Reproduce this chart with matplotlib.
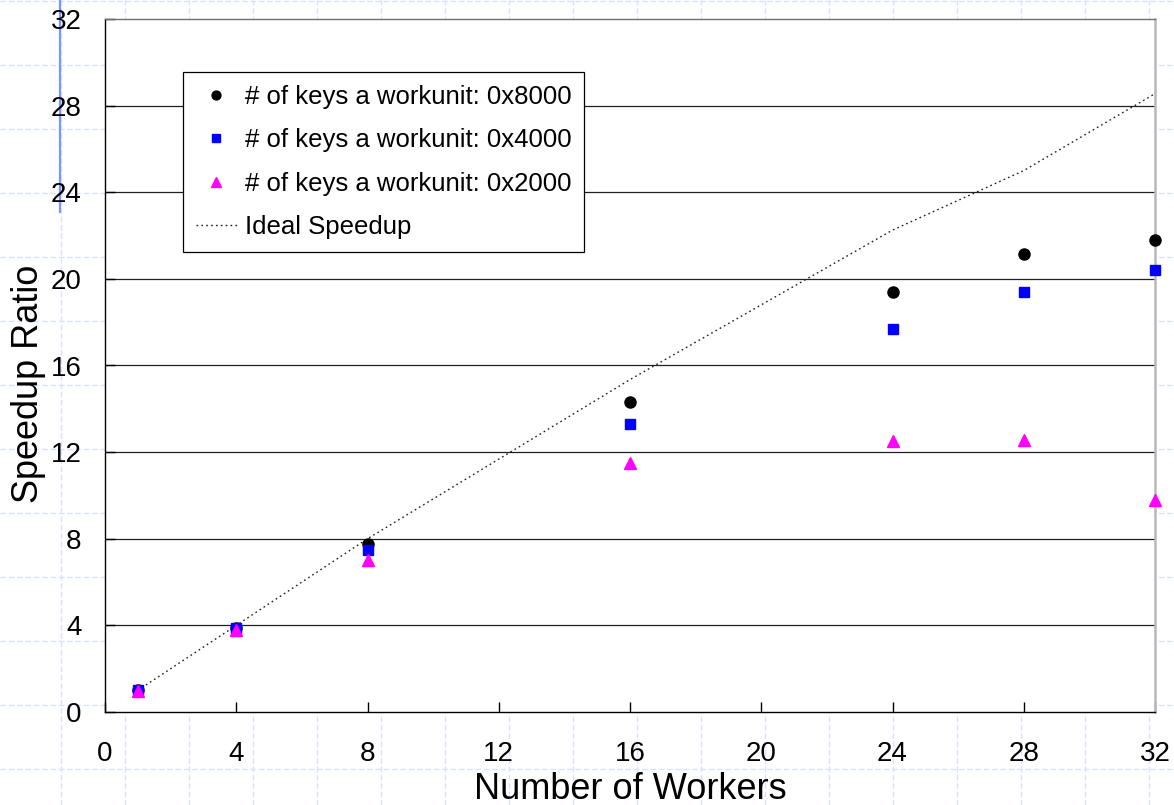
import numpy as np
import matplotlib
matplotlib.use("Agg")
import matplotlib.pyplot as plt

plt.rcParams['font.family'] = ['Liberation Sans', 'DejaVu Sans']

# data
workers = [1, 4, 8, 16, 24, 28, 32]
keys_8000 = [1.0, 3.9, 7.75, 14.3, 19.4, 21.15, 21.8]
keys_4000 = [1.0, 3.9, 7.5, 13.3, 17.7, 19.4, 20.4]
keys_2000 = [0.95, 3.8, 7.0, 11.5, 12.5, 12.55, 9.8]
ideal = [1.0, 4.0, 8.0, 15.35, 22.25, 25.0, 28.55]
ticks = [0, 4, 8, 12, 16, 20, 24, 28, 32]

W, H = 1174, 805
fig = plt.figure(figsize=(W / 100, H / 100), dpi=100)

# slide background: faint dashed blue grid + blue bar on the left
bg = fig.add_axes([0, 0, 1, 1], zorder=-5)
bg.set_xlim(0, W)
bg.set_ylim(H, 0)
bg.axis('off')
for gx in np.arange(61, W, 64):
    bg.axvline(gx, color='#d9e1fb', lw=1.0, dashes=(4, 2))
for gy in np.arange(1, H, 64):
    bg.axhline(gy, color='#d9e1fb', lw=1.0, dashes=(4, 2))
bg.plot([60, 60], [0, 212], color='#7b95ff', lw=1.6)

ax = fig.add_axes([105 / W, (H - 712) / H, 1050 / W, 693 / H])
ax.set_facecolor('white')

for t in ticks[1:-1]:
    ax.axhline(t, color='#202020', lw=0.9, zorder=1)

ax.plot(workers, ideal, color='#202020', lw=1.0, dashes=(1.2, 2.3),
        label='Ideal Speedup', zorder=2)
ax.plot(workers, keys_8000, 'o', color='black', ms=8, clip_on=False,
        label='# of keys a workunit: 0x8000', zorder=3)
ax.plot(workers, keys_4000, 's', color='#0000ff', ms=7, clip_on=False,
        label='# of keys a workunit: 0x4000', zorder=4)
ax.plot(workers, keys_2000, '^', color='#ff00ff', ms=8.5, clip_on=False,
        label='# of keys a workunit: 0x2000', zorder=5)

ax.set_xlim(0, 32)
ax.set_ylim(0, 32)
ax.set_xticks(ticks)
ax.set_yticks(ticks)
ax.tick_params(direction='in', length=7, width=1, labelsize=20, color='black')
ax.tick_params(axis='x', pad=21)
ax.tick_params(axis='y', pad=17)

ax.spines['left'].set_color('black')
ax.spines['bottom'].set_color('black')
ax.spines['top'].set_color('#707070')
ax.spines['right'].set_color('#b8b8b8')
ax.spines['right'].set_linewidth(1.8)
for s in ['left', 'bottom', 'top']:
    ax.spines[s].set_linewidth(1.0)

ax.set_xlabel('Number of Workers', fontsize=26)
ax.xaxis.set_label_coords(0.5, -0.087)
ax.set_ylabel('Speedup Ratio', fontsize=26)
ax.yaxis.set_label_coords(-0.056, 0.473)

handles, labels = ax.get_legend_handles_labels()
order = [1, 2, 3, 0]
leg = ax.legend([handles[i] for i in order], [labels[i] for i in order],
                loc='upper left', bbox_to_anchor=(0.0743, 0.9235),
                borderaxespad=0, fontsize=18.5, frameon=True, fancybox=False,
                edgecolor='black', framealpha=1, handlelength=1.6,
                handletextpad=0.3, labelspacing=0.76, borderpad=0.5,
                markerscale=0.8)
leg.get_frame().set_linewidth(0.9)

fig.savefig('out.png', dpi=100)
